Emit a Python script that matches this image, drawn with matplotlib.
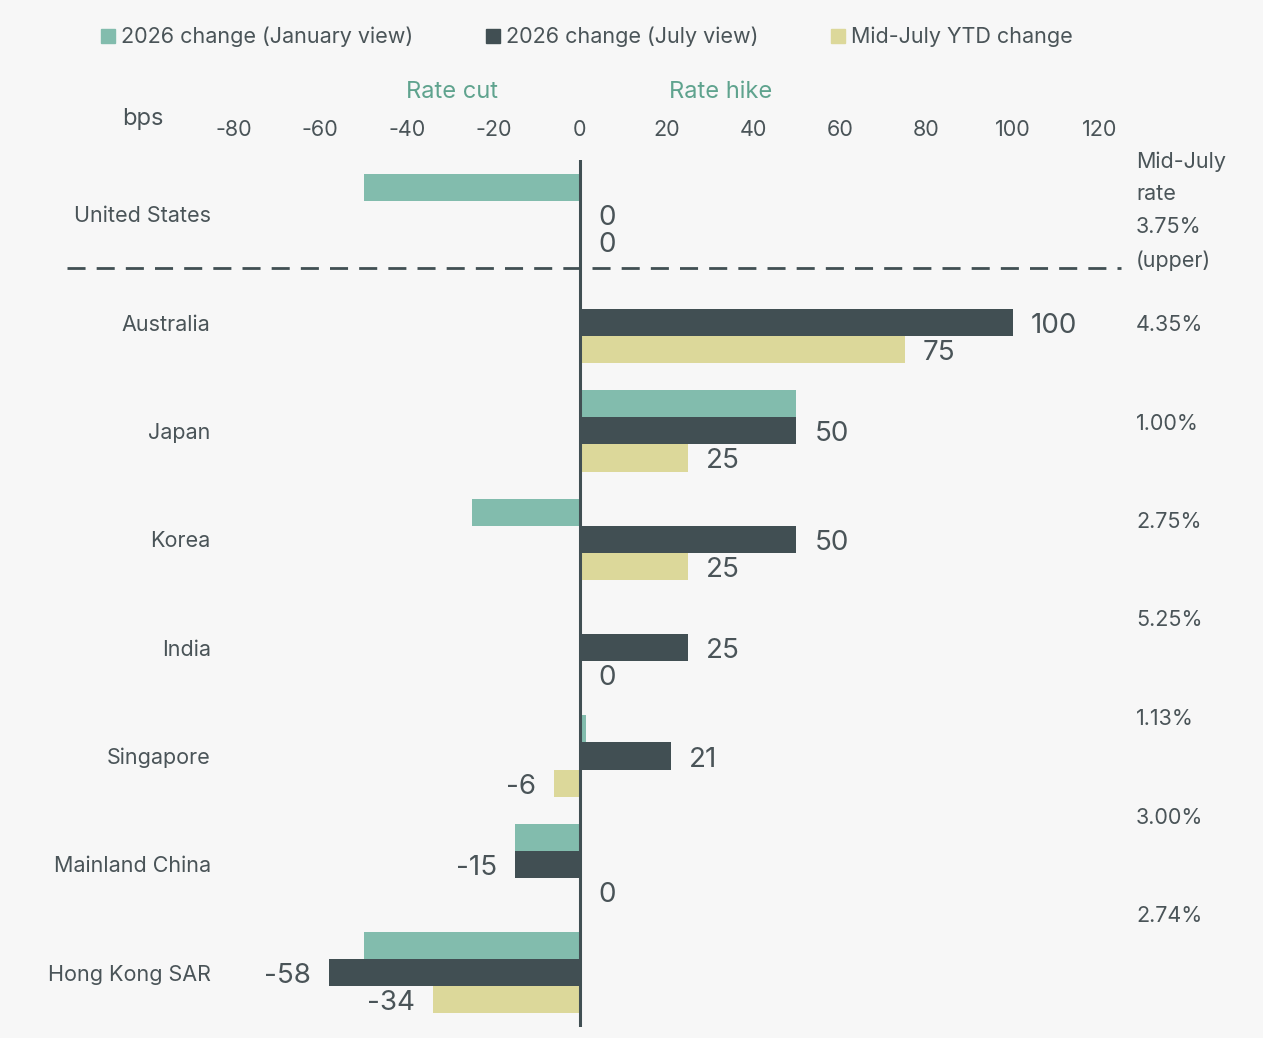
import numpy as np
import matplotlib
matplotlib.use("Agg")
import matplotlib.pyplot as plt
from matplotlib.patches import Patch

# ---- data ----
countries = ["United States", "Australia", "Japan", "Korea", "India",
             "Singapore", "Mainland China", "Hong Kong SAR"]
jan_view = [-50, 0, 50, -25, 0, 1.5, -15, -50]
july_view = [0, 100, 50, 50, 25, 21, -15, -58]
ytd_change = [0, 75, 25, 25, 0, -6, 0, -34]
july_labels = ["0", "100", "50", "50", "25", "21", "-15", "-58"]
ytd_labels = ["0", "75", "25", "25", "0", "-6", "0", "-34"]
rates = ["4.35%", "1.00%", "2.75%", "5.25%", "1.13%", "3.00%", "2.74%"]
us_rate = "Mid-July\nrate\n3.75%\n(upper)"
ticks = [-80, -60, -40, -20, 0, 20, 40, 60, 80, 100, 120]

# ---- style ----
bg = "#f7f7f7"
teal = "#82bcad"
dark = "#414f53"
sand = "#dcd89a"
txt = "#4a5458"
accent = "#5fa38e"
plt.rcParams["font.family"] = ["Inter", "DejaVu Sans"]

fig = plt.figure(figsize=(12.63, 10.38), dpi=100, facecolor=bg)
ax = fig.add_axes([0.1679, 0.0106, 0.7197, 0.8353], facecolor=bg)

y = np.arange(len(countries))
h = 0.25
ax.barh(y - h, jan_view, height=h, color=teal)
ax.barh(y, july_view, height=h, color=dark)
ax.barh(y + h, ytd_change, height=h, color=sand)

# value labels for July view and YTD bars
for ys, vals, labs in [(y, july_view, july_labels), (y + h, ytd_change, ytd_labels)]:
    for yy, v, lab in zip(ys, vals, labs):
        off = 13 if v >= 0 else -13
        ax.annotate(lab, (v, yy), xytext=(off, -2.5), textcoords="offset points",
                    ha="left" if v >= 0 else "right", va="center",
                    fontsize=20, color=txt)

ax.set_xlim(-85, 125)
ax.set_ylim(len(countries) - 0.5, -0.5)
ax.axvline(0, color=dark, lw=2.2, zorder=5)
# dashed separator under the US
ax.plot([-0.16, 1.0], [0.5, 0.5], transform=ax.get_yaxis_transform(),
        color=dark, lw=2, ls=(0, (6.5, 4)), clip_on=False)

ax.xaxis.tick_top()
ax.set_xticks(ticks)
ax.set_xticklabels([str(t) for t in ticks])
ax.tick_params(axis="x", length=0, pad=14.5, labelsize=15.5, labelcolor=txt)
ax.set_yticks(y)
ax.set_yticklabels(countries)
ax.tick_params(axis="y", length=0, pad=1, labelsize=15.5, labelcolor=txt)
for s in ax.spines.values():
    s.set_visible(False)

fig.text(143 / 1263, 1 - 119 / 1038, "bps", ha="center", va="center",
         fontsize=17, color=txt)
fig.text(452 / 1263, 1 - 92 / 1038, "Rate cut", ha="center", va="center",
         fontsize=17, color=accent)
fig.text(721 / 1263, 1 - 92 / 1038, "Rate hike", ha="center", va="center",
         fontsize=17, color=accent)

# rate column on the right
fig.text(1136 / 1263, 1 - 151 / 1038, us_rate, ha="left", va="top",
         fontsize=15.5, color=txt, linespacing=1.8)
for i, r in enumerate(rates):
    fig.text(1136 / 1263, 1 - (325 + i * 98.5) / 1038, r, ha="left",
             va="center", fontsize=15.5, color=txt)

handles = [Patch(color=teal, label="2026 change (January view)"),
           Patch(color=dark, label="2026 change (July view)"),
           Patch(color=sand, label="Mid-July YTD change")]
fig.legend(handles=handles, loc="center left", bbox_to_anchor=(82 / 1263, 1 - 37 / 1038),
           ncol=3, frameon=False, fontsize=15.5, handlelength=0.65, handleheight=0.65,
           handletextpad=0.25, columnspacing=3.4, labelcolor=txt)

fig.savefig("out.png", dpi=100, facecolor=bg)
